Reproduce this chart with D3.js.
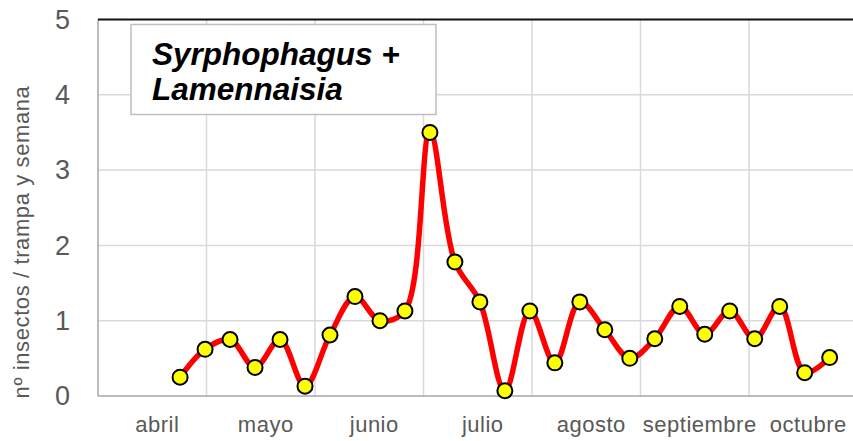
<!DOCTYPE html>
<html>
<head>
<meta charset="utf-8">
<script src="https://cdn.jsdelivr.net/npm/d3@7"></script>
<style>
  body { margin: 0; background: #fff; }
  svg text { font-family: "Liberation Sans", Arial, sans-serif; }
</style>
</head>
<body>
<div id="plot"></div>
<script>
// datos semanales (dias contados desde el 1 de abril)
const meses = ["abril", "mayo", "junio", "julio", "agosto", "septiembre", "octubre"];
const dias = [23, 30, 37, 44, 51, 58, 65, 72, 79, 86, 93, 100, 107, 114,
  121, 128, 135, 142, 149, 156, 163, 170, 177, 184, 191, 198, 205];
const valores = [0.25, 0.62, 0.75, 0.38, 0.75, 0.13, 0.81, 1.32, 1.0, 1.13,
  3.5, 1.78, 1.25, 0.07, 1.13, 0.44, 1.25, 0.88, 0.5, 0.76,
  1.19, 0.82, 1.13, 0.76, 1.19, 0.31, 0.51];
const yTicks = [0, 1, 2, 3, 4, 5];
const titulo = ["Syrphophagus +", "Lamennaisia"];
const ejeY = "nº insectos / trampa y semana";

const w = 853;
const h = 441;
const margin = { top: 19.5, right: -4.5, bottom: 45, left: 98 };
const diasMes = 30.4;

const svg = d3.select("div#plot")
    .append("svg")
    .attr("width", w)
    .attr("height", h);

const xBand = d3.scaleBand()
    .domain(meses)
    .range([margin.left, w - margin.right]);

const xScale = d3.scaleLinear()
    .domain([0, meses.length * diasMes])
    .range([margin.left, w - margin.right]);

const yScale = d3.scaleLinear()
    .domain([0, 5])
    .range([h - margin.bottom, margin.top]);

// rejilla
svg.append("g")
    .selectAll("line")
    .data(yTicks.slice(1, -1))
    .join("line")
    .attr("x1", margin.left).attr("x2", w)
    .attr("y1", d => yScale(d)).attr("y2", d => yScale(d))
    .attr("stroke", "#d9d9d9").attr("stroke-width", 1.5);

svg.append("g")
    .selectAll("line")
    .data(meses.slice(1))
    .join("line")
    .attr("x1", d => xBand(d)).attr("x2", d => xBand(d))
    .attr("y1", yScale(5)).attr("y2", yScale(0))
    .attr("stroke", "#d9d9d9").attr("stroke-width", 1.5);

// ejes
svg.append("line")
    .attr("x1", margin.left).attr("x2", margin.left)
    .attr("y1", yScale(5)).attr("y2", yScale(0))
    .attr("stroke", "#a6a6a6").attr("stroke-width", 1.5);

svg.append("line")
    .attr("x1", margin.left).attr("x2", w)
    .attr("y1", yScale(0)).attr("y2", yScale(0))
    .attr("stroke", "#a6a6a6").attr("stroke-width", 1.5);

svg.append("line")
    .attr("x1", margin.left).attr("x2", w)
    .attr("y1", yScale(5)).attr("y2", yScale(5))
    .attr("stroke", "#111").attr("stroke-width", 2);

const yAxis = d3.axisLeft(yScale).tickValues(yTicks).tickFormat(d3.format("d"))
    .tickSize(0).tickPadding(28);
svg.append("g")
    .attr("class", "yAxis")
    .attr("transform", `translate(${margin.left},0)`)
    .call(yAxis)
    .call(g => g.select(".domain").remove())
    .selectAll("text")
    .attr("font-size", "27px")
    .attr("fill", "#595959");

const xAxis = d3.axisBottom(xBand).tickSize(0).tickPadding(20);
svg.append("g")
    .attr("class", "xAxis")
    .attr("transform", `translate(5,${yScale(0)})`)
    .call(xAxis)
    .call(g => g.select(".domain").remove())
    .selectAll("text")
    .attr("font-size", "22px")
    .attr("letter-spacing", "0.5px")
    .attr("fill", "#595959");

svg.append("text")
    .attr("transform", `translate(29,242) rotate(-90)`)
    .attr("text-anchor", "middle")
    .attr("font-size", "22px")
    .attr("letter-spacing", "0.6px")
    .attr("fill", "#595959")
    .text(ejeY);

// serie
const line = d3.line()
    .x((d, i) => xScale(dias[i]))
    .y(d => yScale(d))
    .curve(d3.curveCatmullRom);

svg.append("path")
    .datum(valores)
    .attr("d", line)
    .attr("fill", "none")
    .attr("stroke", "#ff0000")
    .attr("stroke-width", 5.5)
    .attr("stroke-linejoin", "round");

svg.append("g")
    .selectAll("circle")
    .data(valores)
    .join("circle")
    .attr("cx", (d, i) => xScale(dias[i]))
    .attr("cy", d => yScale(d))
    .attr("r", 7.5)
    .attr("fill", "#ffff00")
    .attr("stroke", "#000")
    .attr("stroke-width", 2);

// cuadro del titulo
svg.append("rect")
    .attr("x", 131).attr("y", 24.5)
    .attr("width", 305).attr("height", 90)
    .attr("fill", "#fff")
    .attr("stroke", "#bfbfbf").attr("stroke-width", 1.5);

svg.append("text")
    .attr("font-size", "31.5px")
    .attr("font-weight", "bold")
    .attr("font-style", "italic")
    .attr("fill", "#000")
    .selectAll("tspan")
    .data(titulo)
    .join("tspan")
    .attr("x", 152)
    .attr("y", (d, i) => 65 + i * 35)
    .text(d => d);
</script>
</body>
</html>
